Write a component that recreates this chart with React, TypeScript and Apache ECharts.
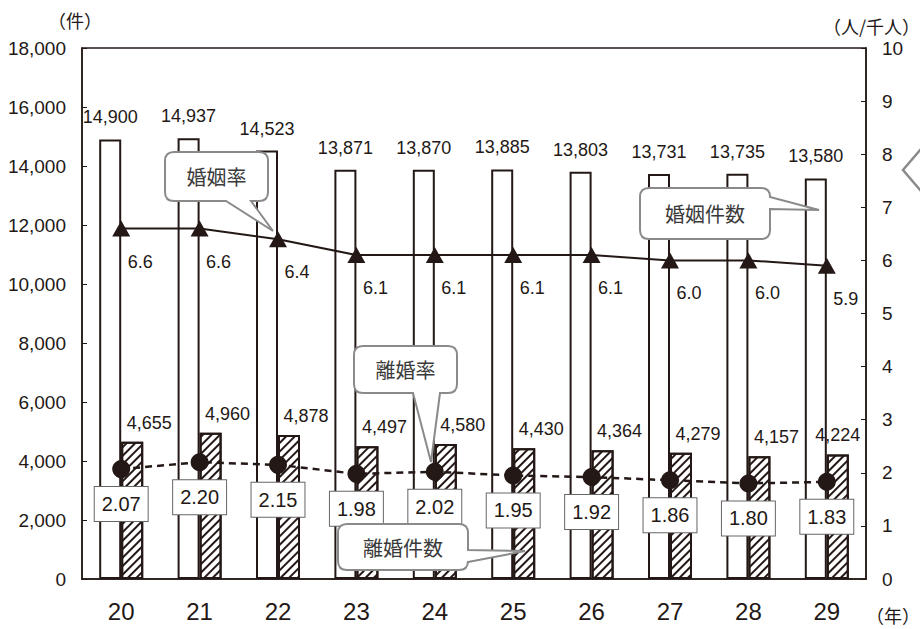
import React, { useEffect, useRef } from "react";
import * as echarts from "echarts";

const years = ["20", "21", "22", "23", "24", "25", "26", "27", "28", "29"];
const marriages = [14900, 14937, 14523, 13871, 13870, 13885, 13803, 13731, 13735, 13580];
const divorces = [4655, 4960, 4878, 4497, 4580, 4430, 4364, 4279, 4157, 4224];
const marriageRate = [6.6, 6.6, 6.4, 6.1, 6.1, 6.1, 6.1, 6.0, 6.0, 5.9];
const divorceRate = [2.07, 2.2, 2.15, 1.98, 2.02, 1.95, 1.92, 1.86, 1.8, 1.83];

const leftTicks = { min: 0, max: 18000, interval: 2000 };
const rightTicks = { min: 0, max: 10, interval: 1 };

const INK = "#231815";
const FONT = "'Noto Sans CJK JP', 'Noto Sans', sans-serif";
const NUM = "'Liberation Sans', Arial, sans-serif";

// Callout outline: rounded rect with a tail on the bottom or right side
function calloutPath(
  x: number, y: number, w: number, h: number, r: number,
  side: "bottom" | "right", a: number, b: number, tx: number, ty: number
) {
  const p: string[] = [];
  p.push(`M${x + r} ${y}`);
  p.push(`L${x + w - r} ${y}`);
  p.push(`Q${x + w} ${y} ${x + w} ${y + r}`);
  if (side === "right") {
    p.push(`L${x + w} ${a}`);
    p.push(`L${tx} ${ty}`);
    p.push(`L${x + w} ${b}`);
  }
  p.push(`L${x + w} ${y + h - r}`);
  p.push(`Q${x + w} ${y + h} ${x + w - r} ${y + h}`);
  if (side === "bottom") {
    p.push(`L${b} ${y + h}`);
    p.push(`L${tx} ${ty}`);
    p.push(`L${a} ${y + h}`);
  }
  p.push(`L${x + r} ${y + h}`);
  p.push(`Q${x} ${y + h} ${x} ${y + h - r}`);
  p.push(`L${x} ${y + r}`);
  p.push(`Q${x} ${y} ${x + r} ${y}`);
  p.push("Z");
  return p.join(" ");
}

const callouts = [
  { name: "co1", text: "婚姻率", box: [165, 152, 103, 49], side: "bottom", base: [226, 251], tip: [273, 231] },
  { name: "co2", text: "婚姻件数", box: [640, 188, 130, 51], side: "right", base: [197, 209], tip: [819, 210] },
  { name: "co3", text: "離婚率", box: [354, 346, 103, 47], side: "bottom", base: [413, 440], tip: [431, 462] },
  { name: "co4", text: "離婚件数", box: [338, 524, 130, 46], side: "right", base: [550, 562], tip: [525, 551] },
];

callouts.forEach((c) => {
  const [x, y, w, h] = c.box;
  const d = calloutPath(x, y, w, h, 9, c.side as any, c.base[0], c.base[1], c.tip[0], c.tip[1]);
  echarts.graphic.registerShape(c.name, echarts.graphic.extendPath(d, {}) as any);
});

export default function App() {
  const ref = useRef<HTMLDivElement>(null);
  useEffect(() => {
    if (!ref.current) return;
    const chart = echarts.init(ref.current, undefined, { renderer: "svg" });
    const fmt = (v: number) => v.toLocaleString("en-US");

    const graphics: any[] = [];
    callouts.forEach((c) => {
      const [x, y, w, h] = c.box;
      graphics.push({
        type: c.name,
        x: 0,
        y: 0,
        z: 100,
        style: { fill: "#ffffff", stroke: "#8a8a8a", lineWidth: 2 },
      });
      graphics.push({
        type: "text",
        x: x + w / 2,
        y: y + h / 2,
        z: 101,
        style: {
          text: c.text,
          fontSize: 20,
          fontFamily: FONT,
          fill: "#3a3a3a",
          align: "center",
          verticalAlign: "middle",
          textAlign: "center",
          textVerticalAlign: "middle",
        },
      });
    });
    graphics.push({
      type: "polyline",
      z: 100,
      shape: { points: [[921, 149], [903, 170], [921, 191]] },
      style: { stroke: "#8a8a8a", lineWidth: 2.5, fill: "none" },
    });
    const axisText = (text: string, x: number, y: number, align: string) => ({
      type: "text",
      x,
      y,
      style: {
        text,
        fontSize: 18,
        fontFamily: FONT,
        fill: INK,
        align,
        verticalAlign: "middle",
        textAlign: align,
        textVerticalAlign: "middle",
      },
    });
    graphics.push(axisText("（件）", 48, 20, "left"));
    graphics.push(axisText("（人/千人）", 920, 26, "right"));
    graphics.push(axisText("（年）", 920, 615, "right"));

    chart.setOption({
      animation: false,
      backgroundColor: "#ffffff",
      grid: {
        left: 82,
        right: 54,
        top: 48,
        bottom: 50,
        show: true,
        borderColor: INK,
        borderWidth: 1.5,
        backgroundColor: "transparent",
      },
      xAxis: {
        type: "category",
        data: years,
        boundaryGap: true,
        axisLine: { lineStyle: { color: INK, width: 1.5 } },
        axisTick: { inside: true, length: 5, lineStyle: { color: INK, width: 1 } },
        axisLabel: { color: INK, fontSize: 24, fontFamily: NUM, margin: 20 },
      },
      yAxis: [
        {
          type: "value",
          ...leftTicks,
          axisLine: { show: true, lineStyle: { color: INK, width: 1.5 } },
          axisTick: { show: true, inside: true, length: 5, lineStyle: { color: INK } },
          splitLine: { show: false },
          axisLabel: { color: INK, fontSize: 19, fontFamily: NUM, margin: 16, formatter: (v: number) => fmt(v) },
        },
        {
          type: "value",
          position: "right",
          ...rightTicks,
          axisLine: { show: true, lineStyle: { color: INK, width: 1.5 } },
          axisTick: { show: true, inside: true, length: 5, lineStyle: { color: INK } },
          splitLine: { show: false },
          axisLabel: { color: INK, fontSize: 19, fontFamily: NUM, margin: 16 },
        },
      ],
      series: [
        {
          name: "婚姻件数",
          type: "bar",
          data: marriages,
          barWidth: 22,
          barGap: "0%",
          itemStyle: { color: "#ffffff", borderColor: INK, borderWidth: 2 },
          label: {
            show: true,
            position: "top",
            distance: 13,
            color: INK,
            fontSize: 18,
            fontFamily: NUM,
            formatter: (p: any) => fmt(p.value),
          },
        },
        {
          name: "離婚件数",
          type: "bar",
          data: divorces.map((v, i) => ({
            value: v,
            label: { offset: i === divorces.length - 1 ? [0, 0] : [17, 0] },
          })),
          barWidth: 22,
          barGap: "0%",
          itemStyle: {
            color: "#ffffff",
            borderColor: INK,
            borderWidth: 2,
            decal: {
              symbol: "rect",
              symbolSize: 1,
              dashArrayX: [1, 0],
              dashArrayY: [1.5, 3.5],
              rotation: -Math.PI / 4,
              color: INK,
              backgroundColor: "#ffffff",
            },
          },
          label: {
            show: true,
            position: "top",
            distance: 10,
            color: INK,
            fontSize: 18,
            fontFamily: NUM,
            formatter: (p: any) => fmt(p.value),
          },
        },
        {
          name: "婚姻率",
          type: "line",
          yAxisIndex: 1,
          data: marriageRate,
          symbol: "triangle",
          symbolSize: [18, 16],
          itemStyle: { color: INK },
          lineStyle: { color: INK, width: 2 },
          z: 5,
          label: {
            show: true,
            position: "inside",
            offset: [19, 33],
            color: INK,
            fontSize: 18,
            fontFamily: NUM,
            formatter: (p: any) => Number(p.value).toFixed(1),
          },
        },
        {
          name: "離婚率",
          type: "line",
          yAxisIndex: 1,
          data: divorceRate,
          symbol: "circle",
          symbolSize: 18,
          itemStyle: { color: INK },
          lineStyle: { color: INK, width: 2.5, type: [7, 5] },
          z: 5,
          label: {
            show: true,
            position: "inside",
            offset: [0, 35],
            color: INK,
            fontSize: 20,
            fontFamily: NUM,
            backgroundColor: "#ffffff",
            borderColor: "#666666",
            borderWidth: 1,
            padding: [6, 7],
            lineHeight: 22,
            formatter: (p: any) => Number(p.value).toFixed(2),
          },
        },
      ],
      graphic: graphics,
    });
    return () => chart.dispose();
  }, []);
  return (
    <div
      ref={ref}
      style={{ position: "absolute", left: 0, top: 0, width: 920, height: 629 }}
    />
  );
}
